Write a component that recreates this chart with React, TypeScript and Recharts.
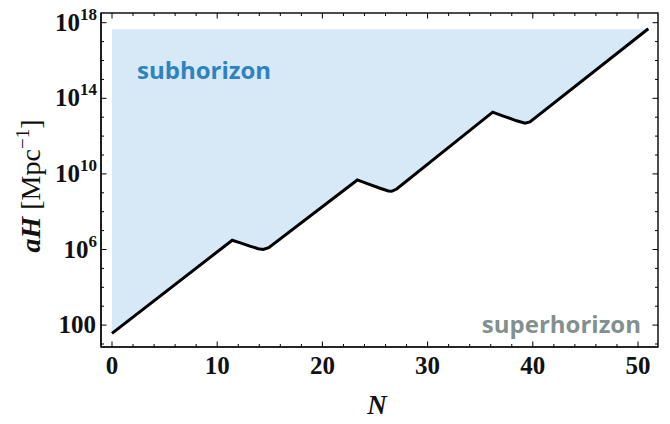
import React from "react";
import { ComposedChart, Area, Line, XAxis, YAxis } from "recharts";

// N (e-folds) and log10(aH / Mpc^-1)
const nValues = [0, 11.43, 12.2, 13.1, 13.9, 14.37, 14.9, 23.32, 24.2, 25.48, 26.27, 26.59, 27.06, 36.19, 37.2, 38.47, 39.26, 39.73, 50.98];
const logAH = [1.56, 6.49, 6.35, 6.18, 6.04, 6.0, 6.1, 9.68, 9.5, 9.24, 9.1, 9.08, 9.2, 13.27, 13.06, 12.81, 12.68, 12.75, 17.68];
const fillTop = 17.65;

const xTicks = [0, 2, 4, 6, 8, 10, 12, 14, 16, 18, 20, 22, 24, 26, 28, 30, 32, 34, 36, 38, 40, 42, 44, 46, 48, 50];
const xLabeled = [0, 10, 20, 30, 40, 50];
const yTicks = [1, 2, 3, 4, 5, 6, 7, 8, 9, 10, 11, 12, 13, 14, 15, 16, 17, 18];
const yLabeled = [2, 6, 10, 14, 18];

const data = nValues.map((n, i) => ({ n, y: logAH[i] }));

const W = 670;
const H = 424;
const TOP = 13;
const BOTTOM = 347;
const LEFT = 101;
const RIGHT = 658;
const DEC = 18.9;
const Y_MAX = 18 + (22.7 - TOP) / DEC;
const Y_MIN = 2 - (BOTTOM - 325.1) / DEC;
const X_PX = 10.52;
const X_MIN = -(112 - LEFT) / X_PX;
const X_MAX = (RIGHT - 112) / X_PX;

const tickFont = "'Liberation Serif', 'DejaVu Serif', serif";
const annFont = "'Open Sans', sans-serif";

// bottom axis tick: draws the bottom tick, its mirrored top tick, and the label
const BottomTick = (props: any) => {
  const { x, y, payload } = props;
  const major = xLabeled.includes(payload.value);
  const len = major ? 5.5 : 3;
  return (
    <g>
      <path d={`M${x},${y}V${y - len}`} stroke="#000" strokeWidth={1} fill="none" />
      <path d={`M${x},${TOP}V${TOP + len}`} stroke="#000" strokeWidth={1} fill="none" />
      {major && (
        <text x={x} y={y + 27} textAnchor="middle" fontFamily={tickFont} fontWeight="bold" fontSize={25} fill="#111">
          {payload.value}
        </text>
      )}
    </g>
  );
};

// left axis tick: draws the left tick, its mirrored right tick, and the label
const LeftTick = (props: any) => {
  const { x, y, payload } = props;
  const v = payload.value;
  const major = yLabeled.includes(v);
  const len = major ? 5.5 : 3;
  return (
    <g>
      <path d={`M${x},${y}H${x + len}`} stroke="#000" strokeWidth={1} fill="none" />
      <path d={`M${RIGHT},${y}H${RIGHT - len}`} stroke="#000" strokeWidth={1} fill="none" />
      {major &&
        (v === 2 ? (
          <text x={x - 5} y={y + 8} textAnchor="end" fontFamily={tickFont} fontWeight="bold" fontSize={25} fill="#111">
            100
          </text>
        ) : (
          <text x={x - 4} y={y + 8} textAnchor="end" fontFamily={tickFont} fontWeight="bold" fontSize={25} fill="#111">
            10
            <tspan fontSize={17} dy={-11}>
              {v}
            </tspan>
          </text>
        ))}
    </g>
  );
};

export default function App() {
  return (
    <div style={{ position: "absolute", left: 0, top: 0, width: W, height: H, background: "#fff" }}>
      <ComposedChart
        width={W}
        height={H}
        data={data}
        margin={{ top: TOP, right: W - RIGHT, bottom: 0, left: 0 }}
      >
        <XAxis
          dataKey="n"
          type="number"
          domain={[X_MIN, X_MAX]}
          ticks={xTicks}
          interval={0}
          tickSize={0}
          tickMargin={0}
          tick={<BottomTick />}
          tickLine={false}
          axisLine={{ stroke: "#000", strokeWidth: 1.2 }}
          height={H - BOTTOM}
          allowDataOverflow
        />
        <YAxis
          type="number"
          domain={[Y_MIN, Y_MAX]}
          ticks={yTicks}
          interval={0}
          tickSize={0}
          tickMargin={0}
          tick={<LeftTick />}
          tickLine={false}
          axisLine={{ stroke: "#000", strokeWidth: 1.2 }}
          width={LEFT}
          allowDataOverflow
        />
        <Area
          type="linear"
          dataKey="y"
          baseValue={fillTop}
          fill="#d7e8f6"
          fillOpacity={1}
          stroke="none"
          isAnimationActive={false}
        />
        <Line
          type="linear"
          dataKey="y"
          stroke="#000"
          strokeWidth={3}
          dot={false}
          isAnimationActive={false}
        />
      </ComposedChart>
      <svg
        width={W}
        height={H}
        style={{ position: "absolute", left: 0, top: 0, pointerEvents: "none" }}
      >
        <rect x={LEFT} y={TOP} width={RIGHT - LEFT} height={BOTTOM - TOP} fill="none" stroke="#000" strokeWidth={1.4} />
        <text x={137} y={79} fontFamily={annFont} fontWeight="bold" fontSize={24} fill="#2d83c0">
          subhorizon
        </text>
        <text x={641} y={333} textAnchor="end" fontFamily={annFont} fontWeight="bold" fontSize={24} fill="#83908f">
          superhorizon
        </text>
        <text x={377} y={414} textAnchor="middle" fontFamily={tickFont} fontWeight="bold" fontStyle="italic" fontSize={27} fill="#111">
          N
        </text>
        <text
          transform="translate(40, 186) rotate(-90)"
          textAnchor="middle"
          fontFamily={tickFont}
          fontSize={28}
          fill="#111"
        >
          <tspan fontWeight="bold" fontStyle="italic">aH</tspan>
          <tspan> [Mpc</tspan>
          <tspan fontSize={19} dy={-11}>−1</tspan>
          <tspan dy={11}>]</tspan>
        </text>
      </svg>
    </div>
  );
}
